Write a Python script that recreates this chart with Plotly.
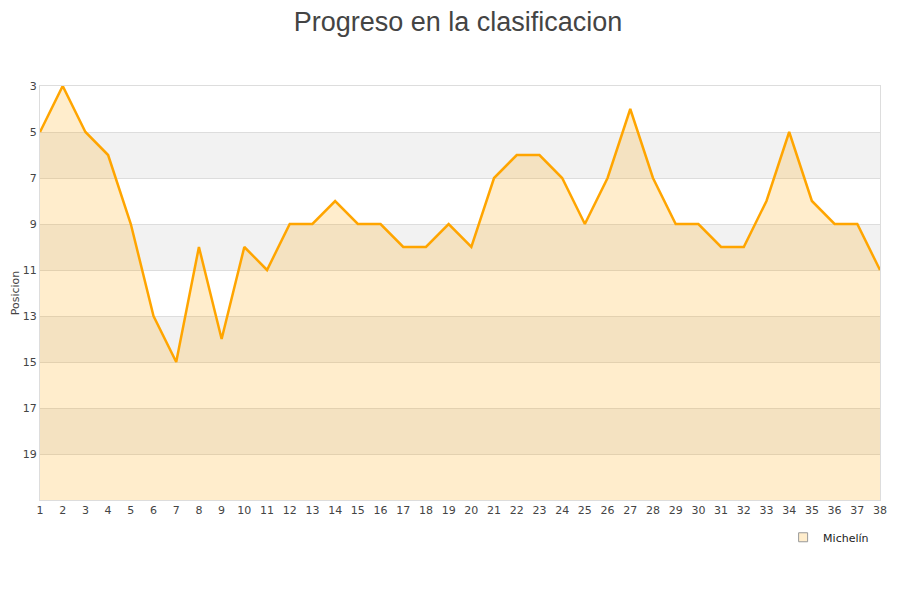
import plotly.graph_objects as go

# データ
jornadas = list(range(1, 39))
posiciones = [5, 3, 5, 6, 9, 13, 15, 10, 14, 10, 11, 9, 9, 8, 9, 9, 10, 10, 9, 10,
              7, 6, 6, 7, 9, 7, 4, 7, 9, 9, 10, 10, 8, 5, 8, 9, 9, 11]
equipo = 'Michelín'
y_ticks = [3, 5, 7, 9, 11, 13, 15, 17, 19]
bandas = [(5, 7), (9, 11), (13, 15), (17, 19)]
fondo = 21

fig = go.Figure()

# ベースライン (塗りつぶし用)
fig.add_trace(go.Scatter(
    x=jornadas, y=[fondo] * len(jornadas),
    mode='lines', line=dict(width=0, color='rgba(0,0,0,0)'),
    showlegend=False, hoverinfo='skip'
))

fig.add_trace(go.Scatter(
    x=jornadas, y=posiciones,
    mode='lines', name=equipo,
    line=dict(color='#FFA500', width=2.5),
    fill='tonexty', fillcolor='rgba(255,165,0,0.2)',
    showlegend=False
))

# 凡例用
fig.add_trace(go.Scatter(
    x=[None], y=[None], mode='markers', name=equipo,
    marker=dict(symbol='square', size=9, color='#FFEDCC',
                line=dict(color='#999', width=1))
))

shapes = []
for y0, y1 in bandas:
    shapes.append(dict(type='rect', xref='paper', yref='y', x0=0, x1=1,
                       y0=y0, y1=y1, fillcolor='#F2F2F2', line_width=0,
                       layer='below'))

fig.update_layout(
    width=900, height=600,
    title=dict(text='Progreso en la clasificacion', x=0.5, xanchor='center',
               y=0.993, yanchor='top', pad=dict(t=0),
               font=dict(size=27, color='#444', family='Liberation Sans')),
    paper_bgcolor='white', plot_bgcolor='white',
    margin=dict(l=32, r=28, t=78, b=108),
    font=dict(family='DejaVu Sans', size=11, color='#444'),
    shapes=shapes,
    legend=dict(x=0.993, y=-0.09, xanchor='right', yanchor='middle',
                font=dict(size=11, color='#222'), bgcolor='rgba(0,0,0,0)',
                itemwidth=30),
)

fig.update_xaxes(range=[1, 38], tickvals=jornadas, showgrid=False,
                 zeroline=False, showline=True, linecolor='#ddd', mirror=True,
                 ticks='', automargin=False,
                 tickfont=dict(size=11, color='#444'))
fig.update_yaxes(range=[fondo, 3], tickvals=y_ticks, showgrid=True,
                 gridcolor='#ddd', zeroline=False, showline=True,
                 linecolor='#ddd', mirror=True, ticks='', automargin=False,
                 title=dict(text='Posicion', font=dict(size=11, color='#444'),
                            standoff=0),
                 tickfont=dict(size=11, color='#444'))

fig.write_html('out.html')
